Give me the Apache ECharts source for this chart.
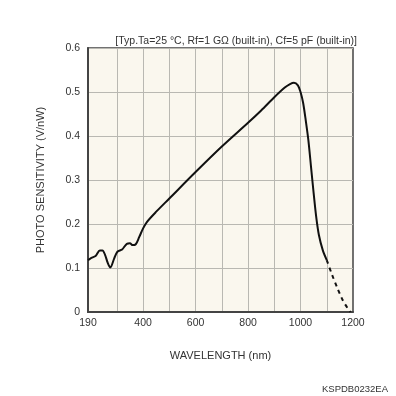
<!DOCTYPE html>
<html><head><meta charset="utf-8">
<script src="https://cdn.jsdelivr.net/npm/echarts@6/dist/echarts.min.js"></script>
<style>html,body{margin:0;padding:0;background:#fff}#c{width:396px;height:396px}</style>
</head><body><div id="c"></div>
<script>
const solidCurve = [
 [190,0.118],[200,0.122],[220,0.128],[235,0.140],[245,0.140],[255,0.130],[265,0.112],[275,0.101],
 [290,0.122],[302,0.137],[320,0.142],[338,0.155],[350,0.156],[360,0.152],[372,0.154],[385,0.170],
 [400,0.190],[415,0.205],[450,0.228],[500,0.258],[600,0.318],[700,0.376],[800,0.430],[850,0.458],
 [900,0.488],[940,0.510],[960,0.518],[975,0.521],[990,0.515],[1000,0.500],[1010,0.475],[1020,0.435],
 [1030,0.390],[1040,0.330],[1050,0.270],[1060,0.215],[1070,0.175],[1085,0.140],[1100,0.118]
];
const dashedCurve = [[1100,0.118],[1120,0.085],[1140,0.055],[1160,0.028],[1180,0.008],[1190,0.0]];
const xLabelValues = [190,400,600,800,1000,1200];
const xGridValues = [300,400,500,600,700,800,900,1000,1100];
const titleText = '[Typ.Ta=25 °C, Rf=1 GΩ (built-in), Cf=5 pF (built-in)]';
const xName = 'WAVELENGTH (nm)';
const yName = 'PHOTO SENSITIVITY (V/nW)';
const codeText = 'KSPDB0232EA';

const font = 'Liberation Sans, Arial, sans-serif';
const chart = echarts.init(document.getElementById('c'));
chart.setOption({
  animation:false,
  backgroundColor:'#fff',
  title:[
    {text:titleText, right:34, top:31, textStyle:{fontSize:10.5, fontWeight:'normal', color:'#333', fontFamily:font}},
    {text:codeText, right:3, top:379, textStyle:{fontSize:9.5, fontWeight:'normal', color:'#333', fontFamily:font}}
  ],
  grid:{left:88, right:43, top:48, bottom:84, show:true, backgroundColor:'#faf7ee', borderColor:'#444', borderWidth:1.5},
  xAxis:{
    type:'value', min:190, max:1200,
    name:xName, nameLocation:'middle', nameGap:38,
    nameTextStyle:{fontSize:11, color:'#333', fontFamily:font},
    axisLine:{show:true, lineStyle:{color:'#444', width:2}},
    axisTick:{show:false, customValues:xGridValues},
    axisLabel:{customValues:xLabelValues, fontSize:10.5, color:'#333', fontFamily:font, margin:6,
      formatter:v=>String(v)},
    splitLine:{show:true, lineStyle:{color:'#b9b8b2', width:1}}
  },
  yAxis:{
    type:'value', min:0, max:0.6, interval:0.1,
    name:yName, nameLocation:'middle', nameGap:42,
    nameTextStyle:{fontSize:11, color:'#333', fontFamily:font},
    axisLine:{show:true, lineStyle:{color:'#444', width:2}},
    axisTick:{show:false},
    axisLabel:{fontSize:10.5, color:'#333', fontFamily:font, margin:8,
      formatter:v=>v===0?'0':v.toFixed(1)},
    splitLine:{show:true, lineStyle:{color:'#b9b8b2', width:1}}
  },
  series:[
    {type:'line', data:solidCurve, smooth:0.3, showSymbol:false, lineStyle:{color:'#111', width:2}, z:5},
    {type:'line', data:dashedCurve, smooth:0.3, showSymbol:false, lineStyle:{color:'#111', width:2, type:[4,4]}, z:5}
  ]
});
</script></body></html>
